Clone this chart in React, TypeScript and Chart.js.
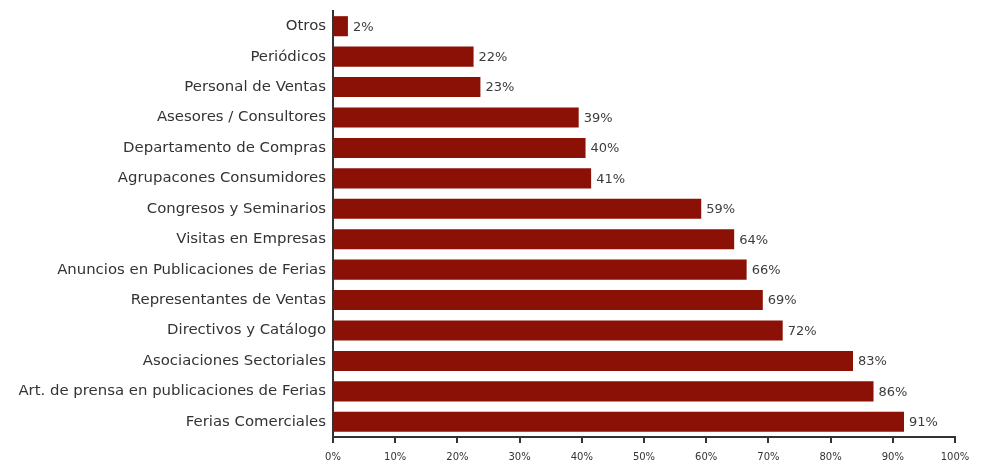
import React, { useEffect, useRef } from "react";
import { Chart, registerables } from "chart.js";

Chart.register(...registerables);

const categories = [
  "Otros",
  "Periódicos",
  "Personal de Ventas",
  "Asesores / Consultores",
  "Departamento de Compras",
  "Agrupacones Consumidores",
  "Congresos y Seminarios",
  "Visitas en Empresas",
  "Anuncios en Publicaciones de Ferias",
  "Representantes de Ventas",
  "Directivos y Catálogo",
  "Asociaciones Sectoriales",
  "Art. de prensa en publicaciones de Ferias",
  "Ferias Comerciales",
];

const values = [2.4, 22.6, 23.7, 39.5, 40.6, 41.5, 59.2, 64.5, 66.5, 69.1, 72.3, 83.6, 86.9, 91.8];

const valueLabels = ["2%", "22%", "23%", "39%", "40%", "41%", "59%", "64%", "66%", "69%", "72%", "83%", "86%", "91%"];

const xTicks = [0, 10, 20, 30, 40, 50, 60, 70, 80, 90, 100];

const FONT = "'DejaVu Sans', sans-serif";
const TEXT = "#333333";

const valueLabelPlugin = {
  id: "valueLabels",
  afterDatasetsDraw(chart: any) {
    const ctx = chart.ctx;
    const meta = chart.getDatasetMeta(0);
    ctx.save();
    ctx.font = `13px ${FONT}`;
    ctx.fillStyle = "#3c3c3c";
    ctx.textAlign = "left";
    ctx.textBaseline = "middle";
    meta.data.forEach((bar: any, i: number) => {
      ctx.fillText(valueLabels[i], bar.x + 5, bar.y + 1);
    });
    ctx.restore();
  },
};

export default function App() {
  const ref = useRef<HTMLCanvasElement | null>(null);

  useEffect(() => {
    if (!ref.current) return;
    const chart = new Chart(ref.current, {
      type: "bar",
      data: {
        labels: categories,
        datasets: [
          {
            data: values,
            backgroundColor: "#8B1006",
            borderWidth: 0,
            categoryPercentage: 0.66,
            barPercentage: 1,
          },
        ],
      },
      options: {
        indexAxis: "y",
        animation: false,
        responsive: false,
        maintainAspectRatio: false,
        layout: { padding: { top: 11, right: 31, bottom: 0, left: 0 } },
        plugins: {
          legend: { display: false },
          tooltip: { enabled: false },
        },
        scales: {
          x: {
            min: 0,
            max: 100,
            afterBuildTicks(scale: any) {
              scale.ticks = xTicks.map((v) => ({ value: v }));
            },
            afterFit(scale: any) {
              scale.height = 24;
            },
            grid: {
              drawOnChartArea: false,
              drawTicks: true,
              tickLength: 6,
              color: TEXT,
              lineWidth: 2,
            },
            border: { display: true, color: TEXT, width: 2 },
            ticks: {
              color: TEXT,
              font: { family: FONT, size: 10 },
              padding: 8,
              maxRotation: 0,
              callback: (v: any) => `${v}%`,
            },
          },
          y: {
            afterFit(scale: any) {
              scale.width = 333;
              scale.paddingTop = 0;
              scale.paddingBottom = 0;
            },
            grid: { display: false, drawTicks: false },
            border: { display: true, color: TEXT, width: 2 },
            ticks: {
              color: TEXT,
              font: { family: FONT, size: 14.9 },
              padding: 7,
            },
          },
        },
      },
      plugins: [valueLabelPlugin],
    });
    return () => chart.destroy();
  }, []);

  return (
    <div style={{ position: "fixed", left: 0, top: 0, width: 986, height: 461, background: "#fff" }}>
      <canvas ref={ref} width={986} height={461} style={{ width: 986, height: 461 }} />
    </div>
  );
}
